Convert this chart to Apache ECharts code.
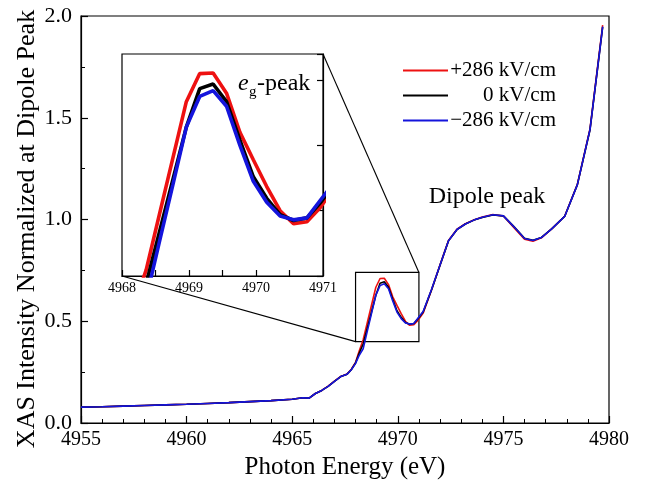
<!DOCTYPE html>
<html><head><meta charset="utf-8">
<script src="https://cdn.jsdelivr.net/npm/echarts@6/dist/echarts.min.js"></script>
<style>html,body{margin:0;padding:0;background:#fff}#c{width:647px;height:485px}</style>
</head><body><div id="c"></div>
<script>
// ---- data ----
const energy = [4955,4956,4957,4958,4959,4960,4961,4962,4963,4964,4965,4965.5,4965.8,4966.1,4966.4,4966.7,4967.0,4967.3,4967.6,4967.8,4968.0,4968.16,4968.36,4968.56,4968.76,4968.96,4969.16,4969.36,4969.56,4969.76,4969.96,4970.16,4970.36,4970.56,4970.76,4970.96,4971.2,4971.6,4972.0,4972.4,4972.8,4973.2,4973.6,4974.0,4974.5,4975.0,4975.5,4976.0,4976.4,4976.8,4977.3,4977.9,4978.5,4979.1,4979.7];
const redVals   = [0.078,0.080,0.083,0.086,0.089,0.092,0.096,0.100,0.105,0.110,0.117,0.124,0.122,0.145,0.160,0.181,0.206,0.229,0.241,0.264,0.298,0.350,0.409,0.495,0.581,0.667,0.710,0.711,0.680,0.620,0.578,0.537,0.500,0.480,0.483,0.505,0.540,0.655,0.777,0.897,0.952,0.979,0.998,1.012,1.024,1.017,0.960,0.903,0.893,0.910,0.955,1.016,1.172,1.445,1.955];
const blackVals = [0.078,0.080,0.083,0.086,0.089,0.092,0.096,0.100,0.105,0.110,0.117,0.124,0.122,0.145,0.160,0.180,0.205,0.228,0.240,0.262,0.295,0.340,0.388,0.468,0.548,0.628,0.687,0.694,0.667,0.608,0.552,0.519,0.494,0.485,0.489,0.512,0.545,0.655,0.775,0.895,0.950,0.978,0.997,1.010,1.022,1.018,0.965,0.908,0.898,0.912,0.955,1.015,1.170,1.440,1.945];
const blueVals  = [0.078,0.080,0.083,0.086,0.089,0.092,0.096,0.100,0.105,0.110,0.117,0.124,0.122,0.145,0.160,0.180,0.205,0.228,0.240,0.262,0.293,0.330,0.365,0.453,0.540,0.628,0.675,0.684,0.660,0.600,0.545,0.513,0.492,0.486,0.489,0.516,0.548,0.657,0.776,0.896,0.951,0.978,0.997,1.011,1.023,1.018,0.964,0.907,0.897,0.911,0.955,1.015,1.170,1.442,1.948];
const seriesNames = ['+286 kV/cm', '0 kV/cm', '\u2212286 kV/cm'];
const seriesColors = ['#ee1111', '#000000', '#1414dc'];
const xRange = [4955, 4980];
const yRange = [0, 2];
const zoomX = [4968, 4971];
const zoomY = [0.40, 0.74];
const yTitle = 'XAS Intensity Normalized at Dipole Peak';
const xTitle = 'Photon Energy (eV)';

// ---- chart ----
const FONT = '"Liberation Serif","Times New Roman",serif';
const chart = echarts.init(document.getElementById('c'), null, {renderer: 'canvas'});
const allVals = [redVals, blackVals, blueVals];
const pairs = v => energy.map((e, i) => [e, v[i]]);

const axisBase = (extra) => Object.assign({
  type: 'value',
  axisLine: {show: true, onZero: false, lineStyle: {color: '#000', width: 1.2}},
  axisTick: {show: true, inside: true, length: 7, lineStyle: {color: '#000', width: 1.2}},
  splitLine: {show: false},
}, extra);

const series = [];
allVals.forEach((v, i) => {
  const s = {
    name: seriesNames[i], type: 'line', xAxisIndex: 0, yAxisIndex: 0,
    data: pairs(v), showSymbol: false, symbol: 'none',
    lineStyle: {width: 1.6, color: seriesColors[i]}, itemStyle: {color: seriesColors[i]},
    z: 3 + i, silent: true
  };
  if (i === 2) {
    s.markArea = {
      silent: true,
      itemStyle: {color: 'rgba(0,0,0,0)', borderColor: '#000', borderWidth: 1.2},
      data: [[{coord: [zoomX[0], zoomY[0]]}, {coord: [zoomX[1], zoomY[1]]}]]
    };
  }
  series.push(s);
});
allVals.forEach((v, i) => {
  series.push({
    name: seriesNames[i], type: 'line', xAxisIndex: 1, yAxisIndex: 1,
    data: pairs(v), showSymbol: false, symbol: 'none', clip: true,
    lineStyle: {width: 3.6, color: seriesColors[i]}, itemStyle: {color: seriesColors[i]},
    z: 13 + i, silent: true
  });
});

const option = {
  animation: false,
  backgroundColor: '#fff',
  textStyle: {fontFamily: FONT, color: '#000'},
  grid: [
    {left: 81, top: 16, width: 528, height: 407, show: true, borderColor: '#000', borderWidth: 1.2, backgroundColor: 'rgba(0,0,0,0)'},
    {left: 122, top: 54, width: 201, height: 222, show: true, borderColor: '#000', borderWidth: 1.2, backgroundColor: '#fff', z: 10}
  ],
  xAxis: [
    axisBase({gridIndex: 0, min: xRange[0], max: xRange[1], interval: 5,
      minorTick: {show: true, splitNumber: 5, length: 4, lineStyle: {color: '#000', width: 1}},
      axisLabel: {fontSize: 20, color: '#000', margin: 7, fontFamily: FONT, formatter: v => String(v)},
      name: xTitle, nameLocation: 'middle', nameGap: 30,
      nameTextStyle: {fontSize: 25, color: '#000', fontFamily: FONT}}),
    axisBase({gridIndex: 1, min: zoomX[0], max: zoomX[1], interval: 1, z: 12,
      axisTick: {show: true, inside: true, length: 6, lineStyle: {color: '#000', width: 1.2}},
      minorTick: {show: true, splitNumber: 2, length: 6, lineStyle: {color: '#000', width: 1.2}},
      axisLabel: {fontSize: 14, color: '#000', margin: 5, fontFamily: FONT, formatter: v => String(v)}})
  ],
  yAxis: [
    axisBase({gridIndex: 0, min: yRange[0], max: yRange[1], interval: 0.5,
      minorTick: {show: true, splitNumber: 2, length: 4, lineStyle: {color: '#000', width: 1}},
      axisLabel: {fontSize: 22, color: '#000', margin: 9, fontFamily: FONT, formatter: v => v.toFixed(1)}}),
    axisBase({gridIndex: 1, min: zoomY[0], max: zoomY[1], interval: 0.1, position: 'right', z: 12,
      axisTick: {show: true, inside: true, length: 6, lineStyle: {color: '#000', width: 1.2}},
      axisLabel: {show: false}})
  ],
  legend: {
    orient: 'vertical', left: 398, top: 55, itemWidth: 45, itemHeight: 2, itemGap: 4,
    icon: 'rect', selectedMode: false,
    data: seriesNames.map((n, i) => ({name: n, itemStyle: {color: seriesColors[i]}})),
    formatter: n => '{r|' + n + '}',
    textStyle: {rich: {r: {width: 103, align: 'right', fontSize: 21, fontFamily: FONT, color: '#000'}}}
  },
  series: series
};
chart.setOption(option);

// connector lines and text annotations
const pMain = (x, y) => chart.convertToPixel({xAxisIndex: 0, yAxisIndex: 0}, [x, y]);
const pIns = (x, y) => chart.convertToPixel({xAxisIndex: 1, yAxisIndex: 1}, [x, y]);
const a1 = pIns(zoomX[1], zoomY[1]), b1 = pMain(zoomX[1], zoomY[1]);
const a2 = pIns(zoomX[0], zoomY[0]), b2 = pMain(zoomX[0], zoomY[0]);
chart.setOption({
  graphic: [
    {type: 'line', z: 20, shape: {x1: a1[0], y1: a1[1], x2: b1[0], y2: b1[1]}, style: {stroke: '#000', lineWidth: 1.1}},
    {type: 'line', z: 20, shape: {x1: a2[0], y1: a2[1], x2: b2[0], y2: b2[1]}, style: {stroke: '#000', lineWidth: 1.1}},
    {type: 'text', z: 30, x: 27, y: 229, rotation: Math.PI / 2, style: {text: yTitle, font: '26px ' + FONT, fill: '#000', textAlign: 'center', textVerticalAlign: 'middle'}},
    {type: 'text', z: 30, x: 487, y: 197, style: {text: 'Dipole peak', font: '24px ' + FONT, fill: '#000', textAlign: 'center', textVerticalAlign: 'middle'}},
    {type: 'text', z: 30, x: 238, y: 84, style: {text: 'e', font: 'italic 24px ' + FONT, fill: '#000', textAlign: 'left', textVerticalAlign: 'middle'}},
    {type: 'text', z: 30, x: 249, y: 92, style: {text: 'g', font: '15px ' + FONT, fill: '#000', textAlign: 'left', textVerticalAlign: 'middle'}},
    {type: 'text', z: 30, x: 257, y: 84, style: {text: '-peak', font: '24px ' + FONT, fill: '#000', textAlign: 'left', textVerticalAlign: 'middle'}}
  ]
});
</script>
</body></html>
